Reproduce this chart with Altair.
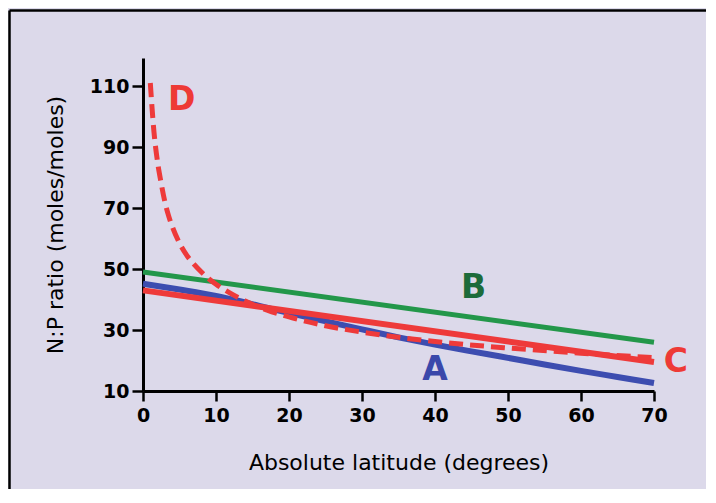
import altair as alt
import pandas as pd

# Series (absolute latitude in degrees, N:P ratio)
lat_a = [0, 5, 10, 13, 18, 24, 30, 35, 40, 45, 49, 55, 60, 65, 70]
np_a = [45.2, 43.3, 41.2, 39.6, 36.7, 33.4, 30.2, 27.6, 25.2, 23.0, 21.3, 18.7, 16.6, 14.6, 12.6]

lat_b = [0, 70]
np_b = [49.0, 26.0]

lat_c = [0, 70]
np_c = [43.0, 19.5]

lat_d = [1, 1.5, 2, 2.5, 3, 3.5, 4, 5, 6, 7, 8, 9, 10, 12, 14, 17, 20, 25, 30, 35, 40, 50, 60, 70]
np_d = [111, 95, 85, 78, 72, 67.5, 64, 58.5, 54.5, 51.5, 49, 46.8, 45, 42, 39.5, 36.5, 34.3,
        31.4, 29.3, 27.6, 26.2, 24.1, 22.4, 20.9]

label_text = ["A", "B", "C", "D"]
label_lat = [40, 45.3, 73, 5.3]
label_np = [16.9, 43.8, 19.5, 105.4]
label_color = ["#3a48aa", "#1d6b3a", "#ee3a36", "#ee3a36"]

x_ticks = list(range(0, 71, 5))
y_ticks = list(range(10, 111, 10))

BG = "#dcd9ea"
FONT = "DejaVu Sans"


def series(lats, vals, name):
    return pd.DataFrame({"lat": lats, "np": vals, "series": name})


df_a = series(lat_a, np_a, "A")
df_b = series(lat_b, np_b, "B")
df_c = series(lat_c, np_c, "C")
df_d = series(lat_d, np_d, "D")
df_lab = pd.DataFrame({"text": label_text, "lat": label_lat, "np": label_np, "color": label_color})

x_enc = alt.X(
    "lat:Q",
    scale=alt.Scale(domain=[0, 70], nice=False, zero=False),
    axis=alt.Axis(
        values=x_ticks,
        labelExpr="datum.value % 10 == 0 ? datum.label : ''",
        tickSize={"condition": {"test": "datum.value % 10 == 0", "value": 10}, "value": 5},
        title="Absolute latitude (degrees)",
        grid=False,
        domainColor="black",
        domainWidth=3,
        tickColor="black",
        tickWidth=2.5,
        labelFont=FONT,
        labelFontSize=19,
        labelFontWeight="bold",
        labelColor="black",
        labelPadding=5,
        labelFlush=False,
        labelOverlap=False,
        titleFont=FONT,
        titleFontSize=22,
        titleFontWeight="normal",
        titleColor="black",
        titleY=71,
        titleBaseline="middle",
    ),
)

y_enc = alt.Y(
    "np:Q",
    scale=alt.Scale(domain=[10, 119.2], nice=False, zero=False),
    axis=alt.Axis(
        values=y_ticks,
        labelExpr="datum.value % 20 == 10 ? datum.label : ''",
        tickSize={"condition": {"test": "datum.value % 20 == 10", "value": 11}, "value": 6},
        title="N:P ratio (moles/moles)",
        grid=False,
        domainColor="black",
        domainWidth=3,
        tickColor="black",
        tickWidth=2.5,
        labelFont=FONT,
        labelFontSize=19,
        labelFontWeight="bold",
        labelColor="black",
        labelPadding=3,
        labelFlush=False,
        labelOverlap=False,
        titleFont=FONT,
        titleFontSize=22,
        titleFontWeight="normal",
        titleColor="black",
        titleX=-88,
        titleBaseline="middle",
    ),
)

line_b = alt.Chart(df_b).mark_line(color="#23974a", strokeWidth=5).encode(x=x_enc, y=y_enc)
line_a = alt.Chart(df_a).mark_line(color="#3d4db0", strokeWidth=6, interpolate="monotone").encode(x="lat:Q", y="np:Q")
line_c = alt.Chart(df_c).mark_line(color="#ee3a3a", strokeWidth=6).encode(x="lat:Q", y="np:Q")
line_d = alt.Chart(df_d).mark_line(
    color="#ee3a3a", strokeWidth=5, strokeDash=[14, 7], interpolate="monotone"
).encode(x="lat:Q", y="np:Q")

labels = alt.Chart(df_lab).mark_text(
    font=FONT, fontSize=33, fontWeight="bold", align="center", baseline="middle"
).encode(
    x="lat:Q",
    y="np:Q",
    text="text:N",
    color=alt.Color("color:N", scale=None, legend=None),
)

frame_df = pd.DataFrame({"k": [0]})
frame_left = alt.Chart(frame_df).mark_rule(color="black", strokeWidth=2.5).encode(
    x=alt.value(-133.5), y=alt.value(-47.5), y2=alt.value(440)
)
frame_top = alt.Chart(frame_df).mark_rule(color="black", strokeWidth=2.5).encode(
    x=alt.value(-133.5), x2=alt.value(570), y=alt.value(-47.5)
)

chart = alt.layer(
    line_b, line_a, line_c, line_d, labels, frame_left, frame_top
).properties(
    width=511,
    height=333,
    autosize=alt.AutoSizeParams(type="none"),
    padding={"left": 135, "top": 50, "right": 52, "bottom": 98},
    background=BG,
).configure_view(stroke=None)

chart.save("out.html", embed_options={"renderer": "svg", "actions": False})
